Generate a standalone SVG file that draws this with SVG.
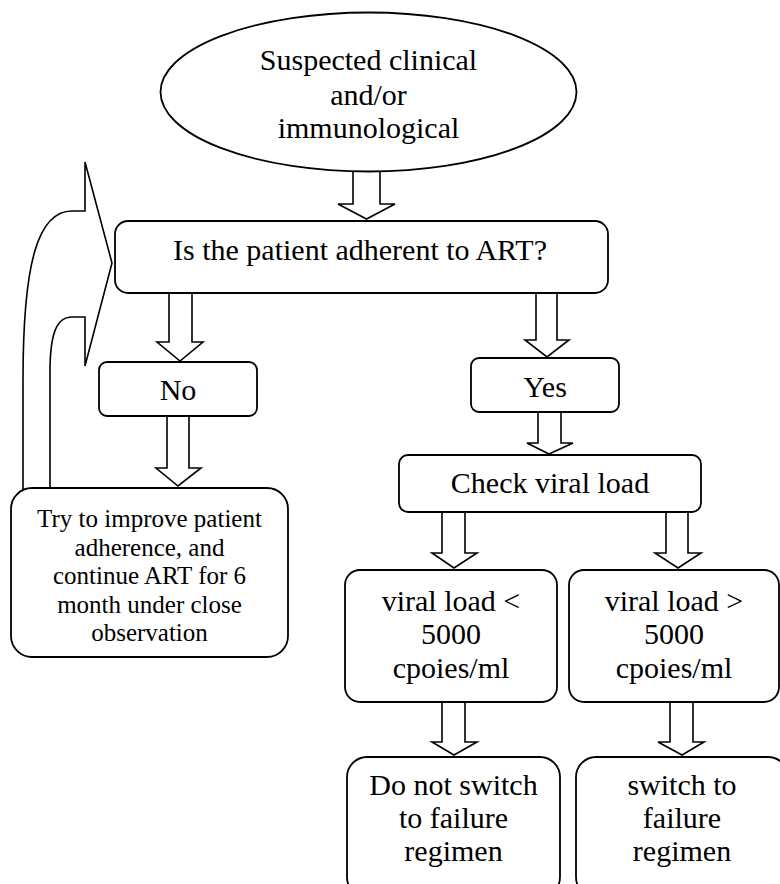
<svg xmlns="http://www.w3.org/2000/svg" width="780" height="884" viewBox="0 0 780 884">
<style>
.shape{fill:#ffffff;stroke:#000000;stroke-width:1.8;stroke-linejoin:miter}
.arrow{fill:#ffffff;stroke:#000000;stroke-width:1.6;stroke-linejoin:miter}
text{font-family:"Liberation Serif","Times New Roman",serif;fill:#000000;text-anchor:middle}
.t30{font-size:30px}
.t25{font-size:25px}
</style>
<rect x="0" y="0" width="780" height="884" fill="#ffffff"/>
<g id="connectors">
<path class="arrow" d="M 23,505 L 23,380 C 23,262 38,211 72,211 L 85,211 L 85,162 L 112,263 L 85,366 L 85,317 L 72,317 C 56,317 50,335 50,372 L 50,505"/>
<path class="arrow" d="M 353,172 L 353,204 L 338,204 L 366.5,219 L 395,204 L 380,204 L 380,172"/>
<path class="arrow" d="M 169,293 L 169,342 L 157,342 L 180,361 L 203,342 L 192,342 L 192,293"/>
<path class="arrow" d="M 536,293 L 536,340 L 525,340 L 547,357 L 569,340 L 557,340 L 557,293"/>
<path class="arrow" d="M 538,412 L 538,443 L 527,443 L 549,454 L 573,443 L 561,443 L 561,412"/>
<path class="arrow" d="M 167,416 L 167,468 L 156,468 L 178,486 L 201,468 L 189,468 L 189,416"/>
<path class="arrow" d="M 442,512 L 442,553 L 432,553 L 454,568 L 477,553 L 465,553 L 465,512"/>
<path class="arrow" d="M 666,512 L 666,553 L 655,553 L 678,568 L 701,553 L 688,553 L 688,512"/>
<path class="arrow" d="M 442,702 L 442,742 L 432,742 L 454,755 L 477,742 L 465,742 L 465,702"/>
<path class="arrow" d="M 670,702 L 670,742 L 658,742 L 682,755 L 704,742 L 693,742 L 693,702"/>
</g>
<g id="start">
<ellipse class="shape" cx="368.5" cy="92" rx="208" ry="79.5"/>
<text class="t30" x="368.5" y="70">Suspected clinical</text>
<text class="t30" x="368.5" y="105">and/or</text>
<text class="t30" x="368.5" y="138">immunological</text>
</g>
<g id="adherent">
<rect class="shape" x="115" y="221" width="493" height="72" rx="13"/>
<text class="t30" x="360" y="260">Is the patient adherent to ART?</text>
</g>
<g id="no">
<rect class="shape" x="99" y="362" width="158" height="54" rx="8"/>
<text class="t30" x="178" y="400">No</text>
</g>
<g id="yes">
<rect class="shape" x="471" y="358" width="148" height="54" rx="8"/>
<text class="t30" x="545" y="397">Yes</text>
</g>
<g id="improve">
<rect class="shape" x="11" y="488" width="277" height="169" rx="21"/>
<text class="t25" x="149.5" y="527">Try to improve patient</text>
<text class="t25" x="149.5" y="555.5">adherence, and</text>
<text class="t25" x="149.5" y="584">continue ART for 6</text>
<text class="t25" x="149.5" y="613">month under close</text>
<text class="t25" x="149.5" y="641">observation</text>
</g>
<g id="check">
<rect class="shape" x="399" y="455" width="302" height="57" rx="9"/>
<text class="t30" x="550" y="493">Check viral load</text>
</g>
<g id="vl-low">
<rect class="shape" x="345" y="570" width="212" height="132" rx="15"/>
<text class="t30" x="451" y="611">viral load &lt;</text>
<text class="t30" x="451" y="644">5000</text>
<text class="t30" x="451" y="678">cpoies/ml</text>
</g>
<g id="vl-high">
<rect class="shape" x="569" y="570" width="210" height="132" rx="15"/>
<text class="t30" x="674" y="611">viral load &gt;</text>
<text class="t30" x="674" y="644">5000</text>
<text class="t30" x="674" y="678">cpoies/ml</text>
</g>
<g id="no-switch">
<rect class="shape" x="347" y="757" width="213" height="140" rx="20"/>
<text class="t30" x="453.5" y="795">Do not switch</text>
<text class="t30" x="453.5" y="828">to failure</text>
<text class="t30" x="453.5" y="861">regimen</text>
</g>
<g id="switch">
<rect class="shape" x="576" y="757" width="212" height="140" rx="20"/>
<text class="t30" x="682" y="795">switch to</text>
<text class="t30" x="682" y="828">failure</text>
<text class="t30" x="682" y="861">regimen</text>
</g>
</svg>
